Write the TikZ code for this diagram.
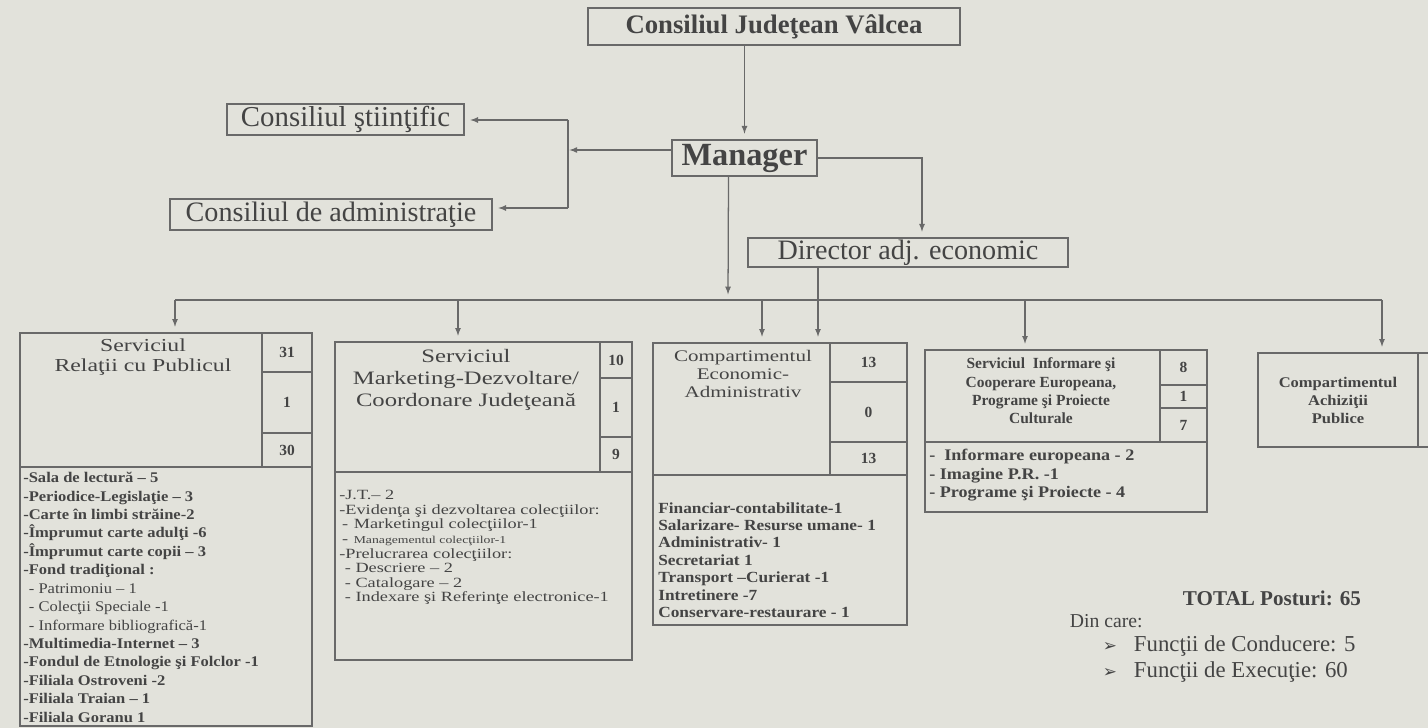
\documentclass[tikz,border=0pt]{standalone}
\usepackage{fontspec}
\setmainfont{Liberation Serif}
\newfontfamily\widefont{Liberation Serif}[FakeStretch=1.3]
\newfontfamily\midfont{Liberation Serif}[FakeStretch=1.12]
\newfontfamily\symfont{DejaVu Sans}
\usepackage{tikz}
\usetikzlibrary{arrows,positioning,fit,calc}

\definecolor{paper}{RGB}{226,226,219}
\definecolor{ink}{RGB}{105,105,105}
\definecolor{txt}{RGB}{68,68,68}

\tikzset{
  sz/.style 2 args={minimum width=#1*0.025cm,minimum height=#2*0.025cm},
  topbox/.style={draw=ink,line width=1pt,inner sep=0pt,text=txt},
  cell/.style={draw=ink,line width=0.9pt,inner sep=0pt,text=txt},
  num/.style={font=\bfseries\fontsize{11}{11}\selectfont},
  conn/.style={draw=ink,line width=0.9pt},
  arr/.style={conn,-latex,shorten >=4pt},
  hdr/.style={align=center,inner sep=0pt,text=txt},
  lst/.style={anchor=north west,align=left,inner sep=0pt,text=txt}
}

\begin{document}
\begin{tikzpicture}[x=0.025cm,y=-0.025cm]
\useasboundingbox (0,0) rectangle (1428,728);
\clip (0,0) rectangle (1428,728);
\fill[paper] (0,0) rectangle (1428,728);

% conducere
\node[topbox,sz={372}{37},font=\bfseries\fontsize{19}{19}\selectfont](cjv) at (774,26.5){Consiliul Judeţean Vâlcea};
\node[topbox,sz={145}{36},font=\bfseries\fontsize{23}{23}\selectfont](mgr) at (744.5,158){Manager};
\node[topbox,sz={237}{31},font=\fontsize{20.5}{20.5}\selectfont](cst) at (345.5,119.5){Consiliul ştiinţific};
\node[topbox,sz={322}{31},font=\fontsize{20}{20}\selectfont](cad) at (331,214.5){Consiliul de administraţie};
\node[topbox,sz={320}{29},font=\fontsize{20}{20}\selectfont](dir) at (908,252.5){Director adj. economic};

\coordinate (spt) at (568,120);
\coordinate (spm) at (568,150);
\coordinate (spb) at (568,208);
\coordinate (mgl) at ($(mgr.west)+(0,-8)$);
\coordinate (mgd) at ($(mgr.south)+(-16,0)$);
\coordinate (dra) at ($(dir.north)+(14,0)$);
\coordinate (drd) at ($(dir.south)+(-90,0)$);

\draw[arr] (cjv.south -| mgr.north) -- (mgr.north);
\draw[arr,shorten >=1pt] (mgl) -- (spm);
\draw[conn] (spt) -- (spb);
\draw[arr] (spt) -- (cst.east |- spt);
\draw[arr] (spb) -- (cad.east |- spb);
\draw[arr] (mgr.east) -| (dra);

% magistrala
\coordinate (busl) at (175,300);
\coordinate (bus2) at (458,300);
\coordinate (busm) at (728,300);
\coordinate (bus3) at (762,300);
\coordinate (bus4) at (1025,300);
\coordinate (busr) at (1382,300);
\draw[conn] (busl) -- (busr);
\draw[arr] (mgd) -- (busm);

% serviciul relatii cu publicul
\node[cell,fit={(20,333)(262,467)}](s1h){};
\node[cell,num,sz={50}{39}](s1a) at (287,352.5){31};
\node[cell,num,sz={50}{61}](s1b) at (287,402.5){1};
\node[cell,num,sz={50}{34}](s1c) at (287,450){30};
\node[cell,fit={(20,467)(312,726)}](s1l){};
\node[hdr,font=\widefont\fontsize{13}{14}\selectfont](s1t) at (143,357){Serviciul\\Relaţii cu Publicul};
\node[lst,font=\midfont\bfseries\fontsize{10.5}{13.1}\selectfont](s1x) at (23,472){-Sala de lectură – 5\\
-Periodice-Legislaţie – 3\\
-Carte în limbi străine-2\\
-Împrumut carte adulţi -6\\
-Împrumut carte copii – 3\\
-Fond tradiţional :\\
\hspace*{4pt}{\mdseries - Patrimoniu – 1}\\
\hspace*{4pt}{\mdseries - Colecţii Speciale -1}\\
\hspace*{4pt}{\mdseries - Informare bibliografică-1}\\
-Multimedia-Internet – 3\\
-Fondul de Etnologie şi Folclor -1\\
-Filiala Ostroveni -2\\
-Filiala Traian – 1\\
-Filiala Goranu 1};

% serviciul marketing
\node[cell,fit={(335,342)(600,472)}](s2h){};
\node[cell,num,sz={32}{36}](s2a) at (616,360){10};
\node[cell,num,sz={32}{59}](s2b) at (616,407.5){1};
\node[cell,num,sz={32}{35}](s2c) at (616,454.5){9};
\node[cell,fit={(335,472)(632,660)}](s2l){};
\node[hdr,font=\widefont\fontsize{13.5}{15.6}\selectfont](s2t) at (466,380){Serviciul\\Marketing-Dezvoltare/\\Coordonare Judeţeană};
\node[lst,font=\widefont\fontsize{10}{10.4}\selectfont](s2x) at (339,490){-J.T.– 2\\
-Evidenţa şi dezvoltarea colecţiilor:\\
\hspace*{2pt}-\hspace*{4pt}Marketingul colecţiilor-1\\
\hspace*{2pt}-\hspace*{4pt}{\fontsize{7.5}{10.4}\selectfont Managementul colecţiilor-1}\\
-Prelucrarea colecţiilor:\\
\hspace*{4pt}- Descriere – 2\\
\hspace*{4pt}- Catalogare – 2\\
\hspace*{4pt}- Indexare şi Referinţe electronice-1};

% compartimentul economic-administrativ
\node[cell,fit={(653,343)(830,475)}](s3h){};
\node[cell,num,sz={77}{39}](s3a) at (868.5,362.5){13};
\node[cell,num,sz={77}{60}](s3b) at (868.5,412){0};
\node[cell,num,sz={77}{33}](s3c) at (868.5,458.5){13};
\node[cell,fit={(653,475)(907,625)}](s3l){};
\node[hdr,font=\widefont\fontsize{11.5}{12.5}\selectfont](s3t) at (743,374){Compartimentul\\Economic-\\Administrativ};
\node[lst,font=\midfont\bfseries\fontsize{11}{12.4}\selectfont](s3x) at (658,502){Financiar-contabilitate-1\\
Salarizare- Resurse umane- 1\\
Administrativ- 1\\
Secretariat 1\\
Transport –Curierat -1\\
Intretinere -7\\
Conservare-restaurare - 1};

% serviciul informare si cooperare europeana
\node[cell,fit={(925,350)(1160,442)}](s4h){};
\node[cell,num,sz={47}{35}](s4a) at (1183.5,367.5){8};
\node[cell,num,sz={47}{23}](s4b) at (1183.5,396.5){1};
\node[cell,num,sz={47}{34}](s4c) at (1183.5,425){7};
\node[cell,fit={(925,442)(1207,512)}](s4l){};
\node[hdr,font=\bfseries\fontsize{11}{13.1}\selectfont](s4t) at (1041,391){Serviciul\ \ Informare şi\\Cooperare Europeana,\\Programe şi Proiecte\\Culturale};
\node[lst,font=\midfont\bfseries\fontsize{11.5}{13.2}\selectfont](s4x) at (929,449){-\ \ Informare europeana - 2\\
- Imagine P.R. -1\\
- Programe şi Proiecte - 4};

% compartimentul achizitii publice
\node[cell,sz={160}{94},align=center,font=\midfont\bfseries\fontsize{10.5}{12.8}\selectfont](s5h) at (1338,400){Compartimentul\\Achiziţii\\Publice};
\node[cell,fit={(1418,353)(1460,447)}](s5a){};

\draw[arr] (busl) -- (busl |- s1h.north);
\draw[arr] (bus2) -- (bus2 |- s2h.north);
\draw[arr] (bus3) -- (bus3 |- s3h.north);
\draw[arr] (drd) -- (drd |- s3h.north);
\draw[arr] (bus4) -- (bus4 |- s4h.north);
\draw[arr] (busr) -- (busr |- s5h.north);

% total posturi
\node[anchor=west,text=txt,font=\bfseries\fontsize{15}{15}\selectfont](tot) at (1178,598){TOTAL Posturi: 65};
\node[anchor=west,text=txt,font=\fontsize{14}{14}\selectfont](din) at (1065,621){Din care:};
\node[anchor=west,text=txt,font=\fontsize{16.2}{16.2}\selectfont](fc) at (1098,646){{\symfont\fontsize{12}{12}\selectfont ➢}\hspace{12pt}Funcţii de Conducere: 5};
\node[anchor=west,text=txt,font=\fontsize{16.2}{16.2}\selectfont](fe) at ($(fc.west)+(0,26)$){{\symfont\fontsize{12}{12}\selectfont ➢}\hspace{12pt}Funcţii de Execuţie: 60};
\end{tikzpicture}
\end{document}
